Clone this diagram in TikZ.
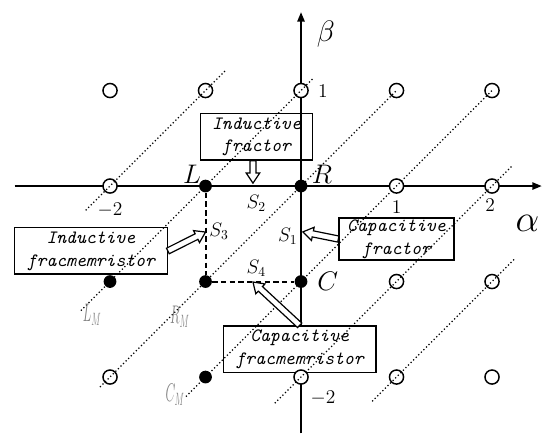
\RequirePackage{fix-cm}
\documentclass[tikz,border=0pt]{standalone}
\usepackage{fontspec}
\usepackage{graphicx}
\usetikzlibrary{arrows.meta, calc, positioning}

% hollow block arrow from #1 to #2
\newcommand{\hollowarrow}[2]{%
  \coordinate (hb) at ($(#2)!7.5pt!(#1)$);
  \draw[hollow] ($(#1)!2.3pt!90:(#2)$) -- ($(hb)!2.3pt!90:(#2)$)
    -- ($(hb)!5pt!90:(#2)$) -- (#2) -- ($(hb)!5pt!-90:(#2)$)
    -- ($(hb)!2.3pt!-90:(#2)$) -- ($(#1)!2.3pt!-90:(#2)$) -- cycle;}

\begin{document}
\begin{tikzpicture}[x=2.5cm, y=2.5cm, >={Triangle[length=7pt,width=5.5pt]},
    axis/.style={->, line width=1.1pt},
    hole/.style={circle, draw, fill=white, line width=1.1pt, inner sep=0pt, minimum size=10.5pt},
    dot/.style={circle, fill=black, inner sep=0pt, minimum size=9.5pt},
    diag/.style={line width=1.3pt, line cap=round, dash pattern=on 0pt off 2.7pt},
    side/.style={line width=1.5pt, dash pattern=on 4pt off 2.5pt},
    box/.style={rectangle, draw, fill=white, line width=1pt, align=center, inner sep=1pt,
      font=\fontsize{14}{17}\selectfont\ttfamily\itshape\addfontfeatures{FakeBold=0.6}},
    hollow/.style={draw, fill=white, line width=0.9pt},
    big/.style={font=\fontsize{20}{22}\selectfont},
    num/.style={font=\fontsize{14.5}{16}\selectfont},
    slab/.style={font=\fontsize{14.5}{16}\selectfont},
    mlab/.style={text=gray, font=\fontsize{19}{20}\selectfont},
  ]
    \useasboundingbox (-3.152,-2.670) rectangle (2.607,1.948);

    % axes
    \coordinate (xl) at (-3.0,0);
    \coordinate (xr) at (2.52,0);
    \coordinate (yb) at (0,-2.59);
    \coordinate (yt) at (0,1.82);
    \draw[axis] (xl) -- (xr);

    % boxes
    \node[box, fill=none, minimum width=83pt, minimum height=34.8pt] (indfrac) at (-0.466,0.516) {Inductive\\fractor};
    \node[box, minimum width=85.7pt, minimum height=31.3pt] (capfrac) at (1.0,-0.555) {Capacitive\\fractor};
    \node[box, minimum width=113.6pt, minimum height=34.5pt] (indmem) at (-2.2,-0.68) {Inductive\\fracmemristor};
    \draw[axis] (yb) -- (yt);
    \node[box, minimum width=113.8pt, minimum height=34.8pt] (capmem) at (-0.014,-1.71) {Capacitive\\fracmemristor};

    % lattice points
    \foreach \i/\x/\y in {1/-2/1, 2/-1/1, 3/0/1, 4/1/1, 5/2/1, 6/-2/0, 7/1/0, 8/2/0,
        9/1/-1, 10/2/-1, 11/-2/-2, 12/0/-2, 13/1/-2, 14/2/-2}
      \node[hole] (h\i) at (\x,\y) {};

    % dotted lines of slope one
    \draw[diag] (-2.25,-0.25) -- (-0.8,1.2);
    \draw[diag] (-2.3,-1.3) -- (0.12,1.12);
    \draw[diag] (-2.1,-2.1) -- (1.0,1.0);
    \draw[diag] (-1.2,-2.2) -- (2.0,1.0);
    \draw[diag] (-0.27,-2.27) -- (2.2,0.2);
    \draw[diag] (0.75,-2.25) -- (2.25,-0.75);

    % element points
    \node[dot] (L)  at (-1,0) {};
    \node[dot] (R)  at (0,0) {};
    \node[dot] (C)  at (0,-1) {};
    \node[dot] (LM) at (-2,-1) {};
    \node[dot] (RM) at (-1,-1) {};
    \node[dot] (CM) at (-1,-2) {};
    \draw[side] (L) -- (RM) -- (C);

    % labels
    \node[big] (Llab) at (-1.14,0.12) {$L$};
    \node[big] (Rlab) at (0.22,0.12) {$R$};
    \node[big] (Clab) at (0.28,-1.0) {$C$};
    \node[font=\fontsize{22}{24}\selectfont] (beta) at (0.26,1.59) {$\beta$};
    \node[font=\fontsize{28}{30}\selectfont] (alpha) at (2.37,-0.39) {$\alpha$};
    \node[num] (n1) at (0.23,1.0) {1};
    \node[num] (n2) at (1.0,-0.22) {1};
    \node[num] (n3) at (1.98,-0.2) {2};
    \node[num] (n4) at (-2.0,-0.25) {$-2$};
    \node[num] (n5) at (0.23,-2.22) {$-2$};
    \node[slab] (s1) at (-0.14,-0.53) {$S_1$};
    \node[slab] (s2) at (-0.47,-0.18) {$S_2$};
    \node[slab] (s3) at (-0.86,-0.47) {$S_3$};
    \node[slab] (s4) at (-0.47,-0.86) {$S_4$};
    \node[mlab] (LMlab) at (-2.19,-1.35) {\scalebox{0.5}[1]{$L_{M}$}};
    \node[mlab] (RMlab) at (-1.27,-1.37) {\scalebox{0.5}[1]{$R_{M}$}};
    \node[mlab] (CMlab) at (-1.32,-2.19) {\scalebox{0.5}[1]{$C_{M}$}};

    % hollow arrows
    \coordinate (tip2) at (-0.503,0.03);
    \coordinate (tip1) at (0.02,-0.48);
    \coordinate (tip3) at (-1.0,-0.482);
    \coordinate (tip4) at (-0.503,-1.005);
    \coordinate (tail2) at (indfrac.south -| tip2);
    \hollowarrow{tail2}{tip2}
    \hollowarrow{capfrac.west}{tip1}
    \hollowarrow{indmem.east}{tip3}
    \hollowarrow{capmem.north}{tip4}
  \end{tikzpicture}
\end{document}
